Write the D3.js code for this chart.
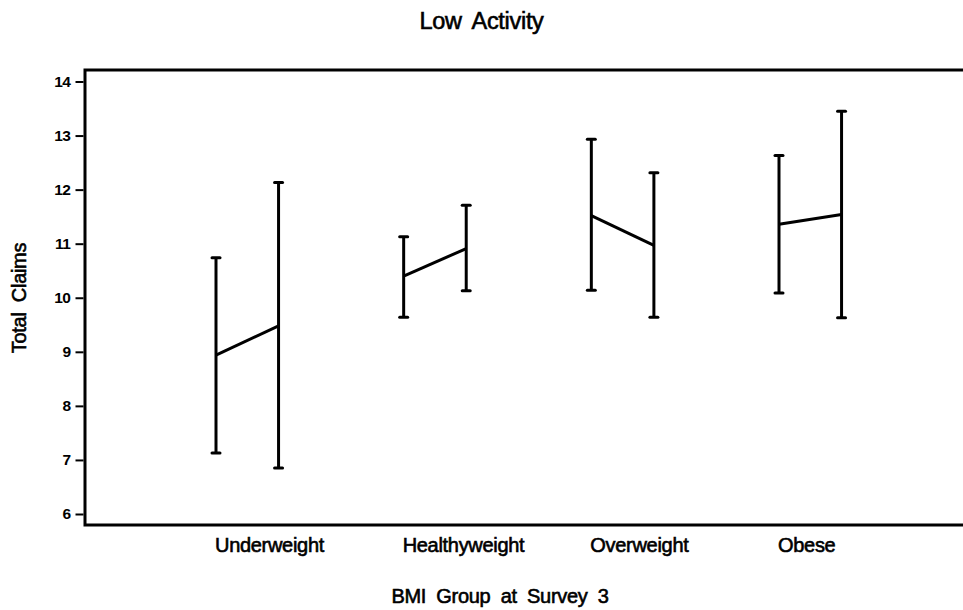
<!DOCTYPE html>
<html>
<head>
<meta charset="utf-8">
<script src="https://cdn.jsdelivr.net/npm/d3@7"></script>
<style>
  html, body { margin: 0; padding: 0; background: #fff; }
  svg { display: block; font-family: "Liberation Sans", Arial, sans-serif; }
  text { fill: #000; }
  .lbl { stroke: #000; stroke-width: 0.6px; letter-spacing: -0.3px; word-spacing: 5px; }
</style>
</head>
<body>
<svg id="chart" width="963" height="610"></svg>
<script>
// BMI groups along the x axis
const categories = ["Underweight", "Healthyweight", "Overweight", "Obese"];

// First interval in each group: mean with lower/upper limits
const meanA  = [8.94, 10.40, 11.52, 11.36];
const lowerA = [7.13, 9.64, 10.14, 10.09];
const upperA = [10.74, 11.13, 12.93, 12.63];

// Second interval in each group
const meanB  = [9.48, 10.91, 10.97, 11.54];
const lowerB = [6.85, 10.13, 9.64, 9.63];
const upperB = [12.13, 11.71, 12.31, 13.45];

const yTicks = [6, 7, 8, 9, 10, 11, 12, 13, 14];

const svg = d3.select("#chart");
const W = 963, H = 610;
const frame = { left: 85, top: 70, bottom: 525, right: 966 };

const x = d3.scaleLinear().domain([0, 3]).range([216, 779]);
const seriesOffset = 1 / 3;
const y = d3.scaleLinear().domain([6, 14]).range([514, 81.5]);

// Title
svg.append("text")
  .attr("class", "lbl")
  .attr("x", W / 2).attr("y", 29)
  .attr("text-anchor", "middle")
  .style("font-size", "23.5px")
  .text("Low Activity");

// Frame: left, top and bottom rules
svg.append("path")
  .attr("d", `M${frame.right},${frame.top}H${frame.left}V${frame.bottom}H${frame.right}`)
  .attr("fill", "none").attr("stroke", "#000").attr("stroke-width", 3);

// Y axis ticks and labels
const yAxis = d3.axisLeft(y).tickValues(yTicks).tickSize(8).tickPadding(5).tickFormat(d3.format("d"));
const ya = svg.append("g").attr("transform", `translate(${frame.left - 1.5},0)`).call(yAxis);
ya.select(".domain").remove();
ya.selectAll(".tick line").attr("stroke", "#000").attr("stroke-width", 2);
ya.selectAll(".tick text")
  .style("font-size", "15.5px").style("font-weight", "bold")
  .style("font-family", "'Liberation Sans', Arial, sans-serif")
  .style("letter-spacing", "-0.5px")
  .attr("fill", "#000");

// Category labels along the bottom
svg.append("g").selectAll("text")
  .data(categories)
  .join("text")
  .attr("class", "lbl")
  .attr("x", (d, i) => x(i) - 1)
  .attr("y", 552)
  .style("font-size", "20px")
  .text(d => d);

// Axis titles
svg.append("text")
  .attr("class", "lbl")
  .attr("x", 500).attr("y", 603)
  .attr("text-anchor", "middle")
  .style("font-size", "20px")
  .text("BMI Group at Survey 3");

svg.append("text")
  .attr("class", "lbl")
  .attr("transform", "translate(26,298) rotate(-90)")
  .attr("text-anchor", "middle")
  .style("font-size", "20px")
  .text("Total Claims");

// Interval records for both series
const bars = [];
categories.forEach((c, i) => {
  bars.push({ pos: i, mean: meanA[i], lo: lowerA[i], hi: upperA[i] });
  bars.push({ pos: i + seriesOffset, mean: meanB[i], lo: lowerB[i], hi: upperB[i] });
});

const marks = svg.append("g").attr("stroke", "#000").attr("fill", "none");

// Vertical interval lines
marks.selectAll("line.bar")
  .data(bars).join("line").attr("class", "bar")
  .attr("x1", d => x(d.pos)).attr("x2", d => x(d.pos))
  .attr("y1", d => y(d.hi)).attr("y2", d => y(d.lo))
  .attr("stroke-width", 3);

// Caps at both limits
const capHalf = 4;
["hi", "lo"].forEach(k => {
  marks.selectAll("line.cap-" + k)
    .data(bars).join("line").attr("class", "cap-" + k)
    .attr("x1", d => x(d.pos) - capHalf).attr("x2", d => x(d.pos) + capHalf)
    .attr("y1", d => y(d[k])).attr("y2", d => y(d[k]))
    .attr("stroke-width", 3).attr("stroke-linecap", "round");
});

// Segment joining the two means within each group
marks.selectAll("line.join")
  .data(categories).join("line").attr("class", "join")
  .attr("x1", (d, i) => x(i)).attr("y1", (d, i) => y(meanA[i]))
  .attr("x2", (d, i) => x(i + seriesOffset)).attr("y2", (d, i) => y(meanB[i]))
  .attr("stroke-width", 3);
</script>
</body>
</html>
